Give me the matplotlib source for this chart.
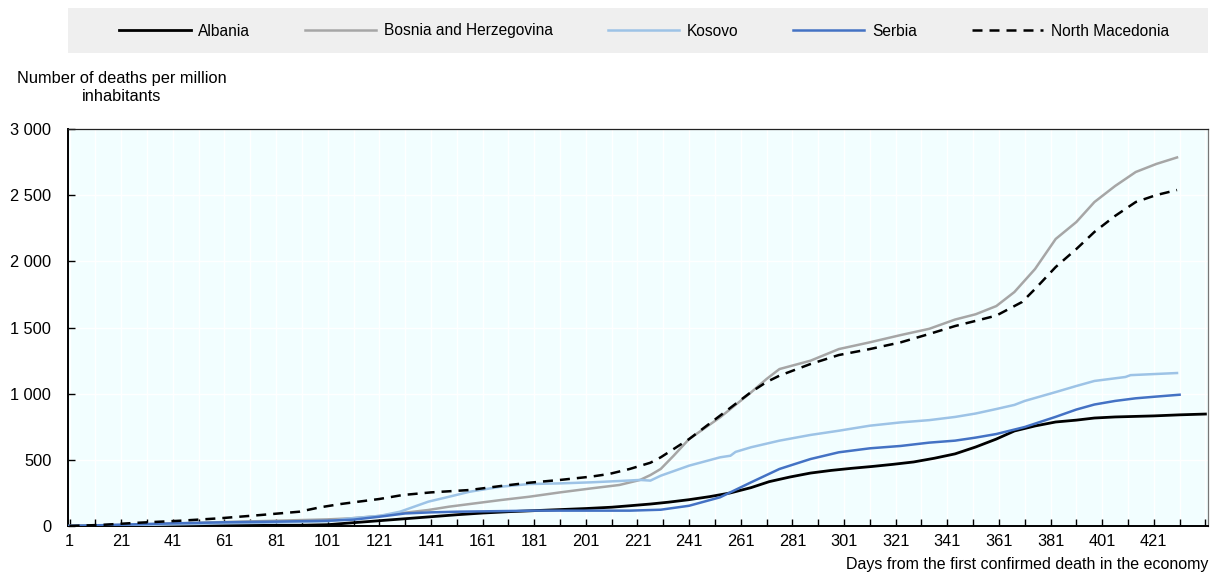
import matplotlib
matplotlib.use("Agg")
import matplotlib.pyplot as plt
from matplotlib.patches import Rectangle
from matplotlib.ticker import FixedLocator, FuncFormatter

plt.rcParams['font.family'] = ['Liberation Sans', 'DejaVu Sans']

# ---- data (days since first confirmed death, deaths per million) ----
albania_days = [1, 21, 41, 61, 81, 91, 101, 111, 121, 131, 141, 151, 161, 171, 181, 191, 201,
                211, 218, 226, 233, 241, 249, 257, 265, 272, 280, 288, 296, 304, 312, 320, 328,
                336, 344, 352, 360, 367, 375, 383, 391, 398, 406, 421, 431, 441]
albania_vals = [0, 2, 4, 5, 5, 6, 10, 25, 40, 55, 70, 85, 98, 108, 116, 124, 132,
                142, 153, 166, 180, 199, 222, 250, 290, 335, 370, 400, 420, 436, 450, 466, 484,
                512, 545, 597, 657, 718, 756, 786, 800, 816, 824, 832, 840, 846]

bosnia_days = [1, 21, 41, 61, 81, 101, 110, 121, 129, 140, 148, 156, 168, 179, 191, 203, 214,
               222, 226, 230, 235, 241, 253, 265, 271, 276, 288, 299, 311, 323, 334, 344, 352,
               360, 367, 375, 383, 391, 398, 406, 414, 422, 430]
bosnia_vals = [0, 8, 18, 30, 40, 50, 58, 76, 96, 121, 146, 166, 196, 221, 254, 284, 310,
               348, 385, 431, 531, 657, 821, 1010, 1111, 1186, 1249, 1337, 1388, 1443, 1490, 1560, 1600,
               1662, 1768, 1942, 2169, 2297, 2448, 2569, 2675, 2736, 2785]

kosovo_days = [1, 21, 41, 61, 81, 101, 110, 121, 129, 140, 148, 156, 168, 179, 191, 203, 214,
               222, 226, 230, 241, 253, 257, 259, 265, 276, 288, 299, 311, 323, 334, 344, 352,
               360, 367, 371, 383, 391, 398, 410, 412, 421, 430]
kosovo_vals = [0, 5, 12, 20, 26, 35, 58, 76, 108, 184, 221, 259, 297, 317, 322, 330, 340,
               348, 343, 380, 456, 519, 531, 560, 595, 645, 688, 720, 758, 783, 800, 824, 850,
               884, 915, 945, 1012, 1058, 1096, 1126, 1140, 1148, 1156]

serbia_days = [1, 11, 21, 41, 61, 81, 101, 111, 121, 131, 141, 151, 181, 201, 218, 230, 241,
               253, 265, 276, 288, 299, 311, 323, 334, 344, 352, 360, 371, 383, 391, 398, 406,
               414, 422, 431]
serbia_vals = [0, 5, 10, 20, 28, 33, 40, 48, 70, 95, 103, 108, 116, 116, 116, 123, 153,
               217, 330, 431, 506, 557, 587, 605, 630, 645, 668, 695, 748, 825, 880, 918, 945,
               965, 978, 992]

macedonia_days = [1, 13, 28, 44, 59, 75, 90, 98, 106, 113, 121, 130, 141, 156, 168, 179, 191,
                  203, 210, 218, 226, 230, 241, 253, 265, 271, 276, 288, 299, 311, 323, 334, 344,
                  352, 360, 370, 375, 383, 391, 398, 406, 414, 422, 430]
macedonia_vals = [0, 8, 25, 40, 58, 83, 108, 141, 166, 184, 204, 234, 254, 272, 302, 327, 348,
                  373, 393, 431, 478, 519, 657, 834, 1012, 1088, 1136, 1224, 1292, 1337, 1388, 1451, 1511,
                  1550, 1590, 1693, 1791, 1957, 2093, 2222, 2343, 2448, 2501, 2539]

series = [
    ("Albania", albania_days, albania_vals, dict(color="#000000", lw=2.0, ls="-")),
    ("Bosnia and Herzegovina", bosnia_days, bosnia_vals, dict(color="#A6A6A6", lw=1.8, ls="-")),
    ("Kosovo", kosovo_days, kosovo_vals, dict(color="#9DC3E6", lw=1.8, ls="-")),
    ("Serbia", serbia_days, serbia_vals, dict(color="#4472C4", lw=1.8, ls="-")),
    ("North Macedonia", macedonia_days, macedonia_vals, dict(color="#000000", lw=1.8, ls=(0, (4, 2.8)))),
]

x_tick_labels = [str(d) for d in range(1, 441, 20)]
y_ticks = [0, 500, 1000, 1500, 2000, 2500, 3000]

W, H = 1226, 577
fig = plt.figure(figsize=(W / 100, H / 100), dpi=100)
ax = fig.add_axes([68 / W, 1 - 526 / H, (1208 - 68) / W, (526 - 129) / H])
ax.set_facecolor("#F2FEFF")

handles = []
for name, d, v, st in series:
    h, = ax.plot(d, v, color=st["color"], lw=st["lw"], linestyle=st["ls"], label=name, zorder=3)
    handles.append(h)

ax.set_xlim(0.4, 442)
ax.set_ylim(0, 3000)

ax.xaxis.set_major_locator(FixedLocator([int(t) for t in x_tick_labels]))
ax.xaxis.set_minor_locator(FixedLocator(list(range(1, 442, 10))))
ax.set_xticklabels(x_tick_labels)
ax.set_yticks(y_ticks)
ax.yaxis.set_major_formatter(FuncFormatter(lambda v, p: f"{int(v):,}".replace(",", " ")))

ax.grid(which="both", axis="x", color="white", lw=1.0, zorder=0)
ax.grid(which="major", axis="y", color="white", lw=1.0, zorder=0)
ax.set_axisbelow(True)

ax.tick_params(axis="x", which="both", direction="in", length=5, width=1, color="black",
               labelsize=11.8, pad=6)
ax.tick_params(axis="y", which="major", direction="in", length=5, width=1, color="black",
               labelsize=11.8, pad=12)
for s in ["left", "bottom"]:
    ax.spines[s].set_linewidth(1.4)
    ax.spines[s].set_color("black")
ax.spines["top"].set_linewidth(0.9)
ax.spines["top"].set_color("#222222")
ax.spines["right"].set_linewidth(0.9)
ax.spines["right"].set_color("#777777")

# legend background band
fig.patches.append(Rectangle((68 / W, 1 - 53 / H), (1208 - 68) / W, 45 / H,
                             transform=fig.transFigure, facecolor="#EFEFEF", edgecolor="none", zorder=0))
fig.legend(handles=handles, loc="center", bbox_to_anchor=(644 / W, 1 - 31 / H), ncol=5,
           frameon=False, fontsize=11.2, handlelength=4.6, handletextpad=0.5, columnspacing=3.5)

fig.text(122 / W, 1 - 71 / H, "Number of deaths per million\ninhabitants", ha="center", va="top",
         fontsize=11.8, linespacing=1.25)
fig.text(1208 / W, 1 - 557 / H, "Days from the first confirmed death in the economy", ha="right", va="top",
         fontsize=11.5)

fig.savefig("out.png", dpi=100)
